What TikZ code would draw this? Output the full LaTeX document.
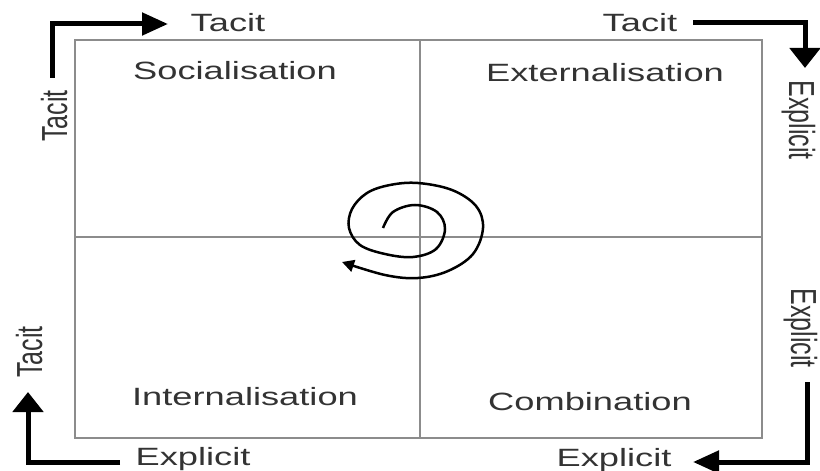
\documentclass[tikz,border=0pt]{standalone}
\usepackage{fontspec}
\setmainfont{Liberation Sans}
\usetikzlibrary{arrows.meta}
\newcommand{\hlab}[1]{\scalebox{1.45}[1]{#1}}
\newcommand{\vlab}[1]{\scalebox{1}[1.45]{#1}}
\begin{document}
\begin{tikzpicture}[x=1bp,y=-1bp,
  lab/.style={font=\fontsize{25bp}{30bp}\selectfont, text=black!80, inner sep=0pt, anchor=base},
  gridline/.style={draw=black!45, line width=2bp},
  hflow/.style={line width=5bp, line join=miter, -{Triangle[length=26bp,width=22bp]}},
  vflow/.style={line width=5bp, line join=miter, -{Triangle[length=20bp,width=30bp]}},
  spiral/.style={line width=2.5bp, -{Triangle[length=12bp,width=12bp]}}
]
\useasboundingbox (0,0) rectangle (820,471);

% box and quadrant lines
\coordinate (TL) at (75,40);
\coordinate (BR) at (762,438);
\coordinate (MT) at (420,40);
\coordinate (MB) at (420,438);
\coordinate (ML) at (75,237);
\coordinate (MR) at (762,237);
\draw[gridline] (TL) rectangle (BR);
\draw[gridline] (MT) -- (MB);
\draw[gridline] (ML) -- (MR);

% quadrant labels
\node[lab] (soc) at (235,80) {\hlab{Socialisation}};
\node[lab] (ext) at (605,82) {\hlab{Externalisation}};
\node[lab] (int) at (245,405) {\hlab{Internalisation}};
\node[lab] (com) at (590,410) {\hlab{Combination}};

% outer labels
\node[lab] (tacTL) at (228,32) {\hlab{Tacit}};
\node[lab] (tacTR) at (640,32) {\hlab{Tacit}};
\node[lab] (expBL) at (193,465) {\hlab{Explicit}};
\node[lab] (expBR) at (614,466) {\hlab{Explicit}};
\node[lab, rotate=90] (tacL1) at (67,116) {\vlab{Tacit}};
\node[lab, rotate=90] (tacL2) at (42,352) {\vlab{Tacit}};
\node[lab, rotate=-90] (expR1) at (789,120) {\vlab{Explicit}};
\node[lab, rotate=-90] (expR2) at (791,328) {\vlab{Explicit}};

% corner arrows
\coordinate (a1s) at (52,78);
\coordinate (a1c) at (52,24);
\coordinate (a1e) at (168,24);
\draw[hflow] (a1s) -- (a1c) -- (a1e);

\coordinate (a2s) at (693,23);
\coordinate (a2c) at (805,23);
\coordinate (a2e) at (805,68);
\draw[vflow] (a2s) -- (a2c) -- (a2e);

\coordinate (a3s) at (807,382);
\coordinate (a3c) at (807,462);
\coordinate (a3e) at (693,462);
\draw[hflow] (a3s) -- (a3c) -- (a3e);

\coordinate (a4s) at (120,462);
\coordinate (a4c) at (28,462);
\coordinate (a4e) at (28,392);
\draw[vflow] (a4s) -- (a4c) -- (a4e);

% spiral
\draw[spiral] plot[smooth, tension=0.6] coordinates {
  (383,228) (393,212) (415,205) (437,212) (445,229) (436,249) (413,257)
  (385,254) (360,245) (349,228) (352,209) (367,193) (390,185) (418,183)
  (452,190) (476,206) (483,228) (473,254) (448,271) (418,278) (385,275) (342,262)};
\end{tikzpicture}
\end{document}
